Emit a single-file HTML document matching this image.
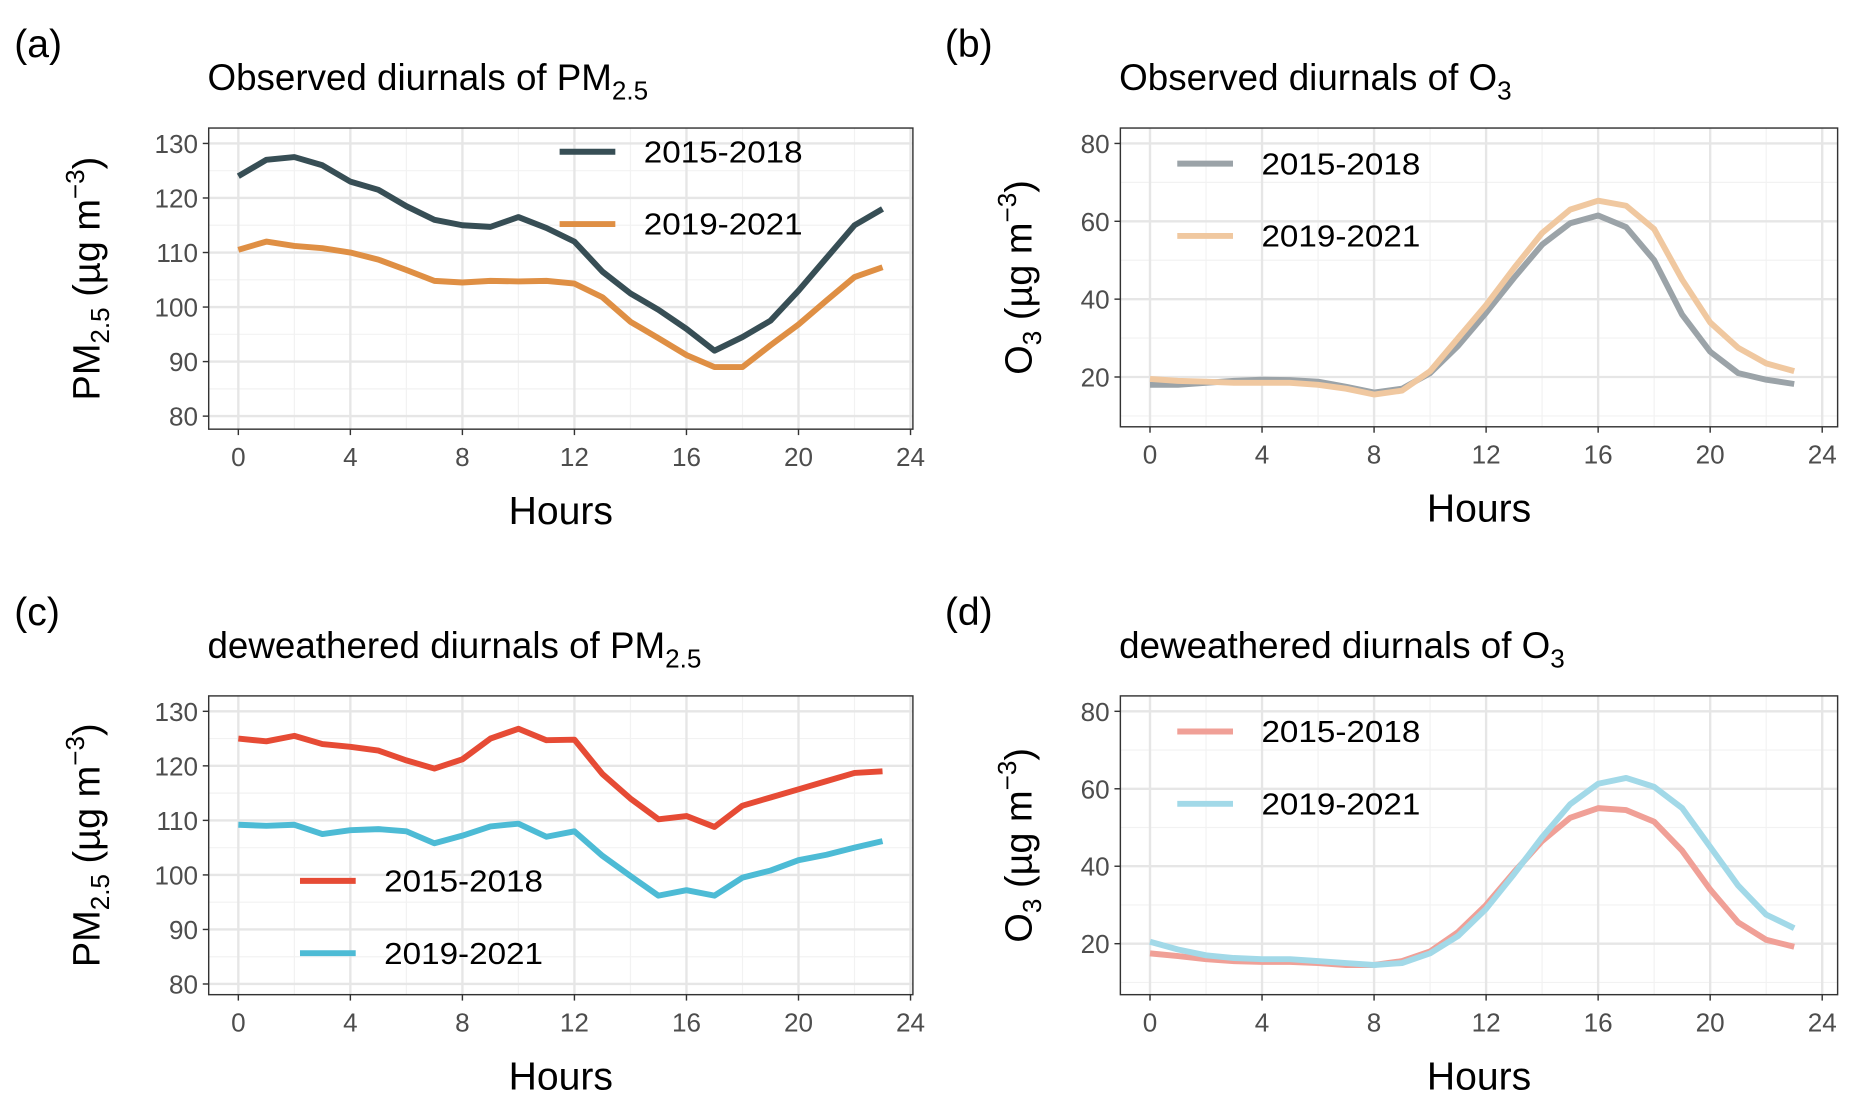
<!DOCTYPE html>
<html><head><meta charset="utf-8"><style>
html,body{margin:0;padding:0;background:#fff;}
svg{display:block;font-family:"Liberation Sans",Arial,sans-serif;}
</style></head><body>
<svg id="fig" width="1859" height="1108" viewBox="0 0 1568 934.6" xmlns="http://www.w3.org/2000/svg"></svg>
<script>
const hours = [0,1,2,3,4,5,6,7,8,9,10,11,12,13,14,15,16,17,18,19,20,21,22,23];
const xTicks = [0,4,8,12,16,20,24];
const pmTicks = [80,90,100,110,120,130];
const o3Ticks = [20,40,60,80];
const obsPm1518 = [124,127,127.5,126,123,121.5,118.5,116,115,114.7,116.5,114.5,112,106.5,102.5,99.5,96,92,94.5,97.5,103,109,115,118];
const obsPm1921 = [110.5,112,111.2,110.8,110,108.7,106.8,104.8,104.5,104.8,104.7,104.8,104.3,101.8,97.3,94.3,91.2,89,89,93,96.8,101.2,105.5,107.3];
const obsO31518 = [18,18,18.5,19,19.3,19.2,18.8,17.5,16,17,21,28,36.5,45.5,54,59.5,61.5,58.5,50,36,26.5,21,19.3,18.2];
const obsO31921 = [19.5,19,18.8,18.5,18.5,18.5,18,17,15.5,16.5,21.5,30,38.5,48,57,63,65.3,64,58,45,34,27.5,23.5,21.5];
const dwPm1518 = [125,124.5,125.5,124,123.5,122.8,121,119.5,121.2,125,126.8,124.7,124.8,118.5,114,110.2,110.8,108.8,112.7,114.2,115.7,117.2,118.7,119];
const dwPm1921 = [109.2,109,109.2,107.5,108.2,108.4,108,105.8,107.2,108.9,109.4,107,108,103.5,99.8,96.2,97.2,96.2,99.5,100.8,102.7,103.7,105,106.2];
const dwO31518 = [17.5,16.8,16,15.5,15.3,15.3,15,14.5,14.5,15.5,18,23,30,38.5,46.5,52.5,55,54.5,51.5,44,34,25.5,21,19.2];
const dwO31921 = [20.5,18.5,17,16.3,16,16,15.5,15,14.5,15,17.5,22,29,38,47.5,56,61.3,62.8,60.5,55,45,35,27.5,24];
const seriesLabels = ["2015-2018","2019-2021"];

const NS="http://www.w3.org/2000/svg";
const svg=document.getElementById('fig');
function mk(tag,attrs,parent,txt){const e=document.createElementNS(NS,tag);for(const k in attrs)e.setAttribute(k,attrs[k]);if(txt!==undefined)e.textContent=txt;(parent||svg).appendChild(e);return e;}

function panel(cfg){
  const g=mk('g',{});
  
  
  const L=cfg.box[0],T=cfg.box[1],R=cfg.box[2],B=cfg.box[3];
  const xs=h=>cfg.x0+(cfg.x24-cfg.x0)*h/24;
  const ys=v=>cfg.yTop+(cfg.yBot-cfg.yTop)*(cfg.vTop-v)/(cfg.vTop-cfg.vBot);
  for(let i=0;i<xTicks.length;i++){const h=xTicks[i]-2;if(h>=-1)mk('line',{x1:xs(h),x2:xs(h),y1:T,y2:B,stroke:'#f2f2f2','stroke-width':1},g);}
  const tk=cfg.ticks,step=tk[1]-tk[0];
  for(let i=-1;i<tk.length;i++){const v=(i<0?tk[0]:tk[i])+(i<0?-step/2:step/2);const y=ys(v);if(y>T&&y<B)mk('line',{x1:L,x2:R,y1:y,y2:y,stroke:'#f2f2f2','stroke-width':1},g);}
  xTicks.forEach(h=>mk('line',{x1:xs(h),x2:xs(h),y1:T,y2:B,stroke:'#e6e6e6','stroke-width':2},g));
  tk.forEach(v=>mk('line',{x1:L,x2:R,y1:ys(v),y2:ys(v),stroke:'#e6e6e6','stroke-width':2},g));
  cfg.series.forEach((s,si)=>{
    const p=mk('polyline',{points:hours.map((h,i)=>xs(h)+','+ys(s.data[i])).join(' '),fill:'none',stroke:s.color,'stroke-width':5,'stroke-linejoin':'round'},g);
    
    
    const lg=mk('g',{},g);
    
    
    mk('line',{x1:cfg.leg[0],x2:cfg.leg[0]+47,y1:cfg.leg[1]+si*61,y2:cfg.leg[1]+si*61,stroke:s.color,'stroke-width':5},lg);
    mk('text',{x:cfg.leg[0]+71,y:cfg.leg[1]+si*61+9,'font-size':26,fill:'#000',textLength:134,lengthAdjust:'spacingAndGlyphs'},lg,seriesLabels[si]);
  });
  mk('rect',{x:L,y:T,width:R-L,height:B-T,fill:'none',stroke:'#333','stroke-width':1.2},g);
  xTicks.forEach(h=>{mk('line',{x1:xs(h),x2:xs(h),y1:B,y2:B+5,stroke:'#333','stroke-width':1.2},g);mk('text',{x:xs(h),y:B+31,'font-size':22,fill:'#4d4d4d','text-anchor':'middle'},g,h);});
  tk.forEach(v=>{mk('line',{x1:L-5,x2:L,y1:ys(v),y2:ys(v),stroke:'#333','stroke-width':1.2},g);mk('text',{x:L-9,y:ys(v)+8,'font-size':22,fill:'#4d4d4d','text-anchor':'end'},g,v);});
  const xl=mk('text',{x:(L+R)/2,y:B+80,'font-size':33,'text-anchor':'middle'},g,'Hours');
  
  const cy=(T+B)/2, lx=cfg.yLabX;
  const yl=mk('text',{x:0,y:0,'font-size':32,'text-anchor':'middle',transform:`translate(${lx},${cy}) rotate(-90)`},g);
  
  yl.innerHTML=cfg.ylab;
  const tl=mk('text',{x:L-1,y:T-32,'font-size':31},g);
  
  tl.innerHTML=cfg.title;
  const lb=mk('text',{x:cfg.letterX,y:T-60,'font-size':33},g,cfg.letter);
  
}
const pmLab='PM<tspan font-size="22" dy="8">2.5</tspan><tspan dy="-8"> (µg m</tspan><tspan font-size="22" dy="-13">−3</tspan><tspan dy="13">)</tspan>';
const o3Lab='O<tspan font-size="22" dy="8">3</tspan><tspan dy="-8"> (µg m</tspan><tspan font-size="22" dy="-13">−3</tspan><tspan dy="13">)</tspan>';
panel({name:'panel-a',letter:'(a)',letterX:12,box:[176,108,770,362],x0:201,x24:768,yTop:121,yBot:351,vTop:130,vBot:80,ticks:pmTicks,leg:[472,128],yLabX:84,
 title:'Observed diurnals of PM<tspan font-size="22" dy="8">2.5</tspan>',ylab:pmLab,
 series:[{data:obsPm1518,color:'#374e55'},{data:obsPm1921,color:'#df8f44'}]});
panel({name:'panel-b',letter:'(b)',letterX:797,box:[945,108,1550,360],x0:970,x24:1537,yTop:121,yBot:318,vTop:80,vBot:20,ticks:o3Ticks,leg:[993,138],yLabX:870,
 title:'Observed diurnals of O<tspan font-size="22" dy="8">3</tspan>',ylab:o3Lab,
 series:[{data:obsO31518,color:'#9ba3a8'},{data:obsO31921,color:'#f0c8a0'}]});
panel({name:'panel-c',letter:'(c)',letterX:12,box:[176,587,770,839],x0:201,x24:768,yTop:600,yBot:830,vTop:130,vBot:80,ticks:pmTicks,leg:[253,743],yLabX:84,
 title:'deweathered diurnals of PM<tspan font-size="22" dy="8">2.5</tspan>',ylab:pmLab,
 series:[{data:dwPm1518,color:'#e64b35'},{data:dwPm1921,color:'#4dbbd5'}]});
panel({name:'panel-d',letter:'(d)',letterX:797,box:[945,587,1550,839],x0:970,x24:1537,yTop:600,yBot:796,vTop:80,vBot:20,ticks:o3Ticks,leg:[993,617],yLabX:870,
 title:'deweathered diurnals of O<tspan font-size="22" dy="8">3</tspan>',ylab:o3Lab,
 series:[{data:dwO31518,color:'#f0a097'},{data:dwO31921,color:'#a2d9e8'}]});
</script>
</body></html>
